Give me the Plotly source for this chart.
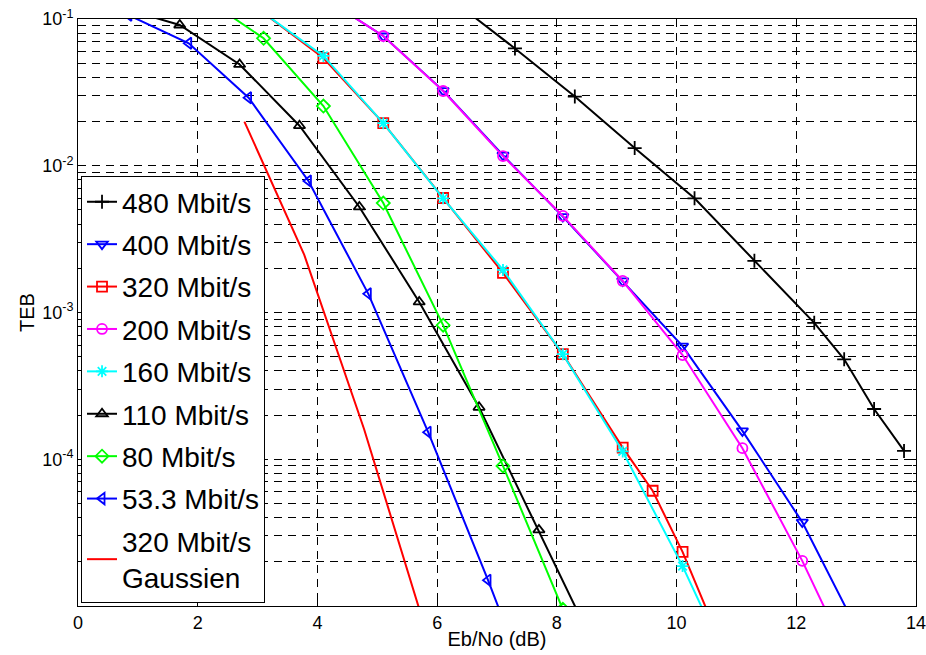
import plotly.graph_objects as go

# ---------------- data ----------------
x_480 = [6.3, 7.3, 8.3, 9.3, 10.3, 11.3, 12.3, 12.8, 13.3, 13.8]
y_480 = [0.13, 0.063, 0.0296, 0.0132, 0.0060, 0.00225, 0.00085, 4.8e-4, 2.2e-4, 1.14e-4]

x_400 = [4.1, 5.1, 6.1, 7.1, 8.1, 9.1, 10.1, 11.1, 12.1, 13.1]
y_400 = [0.14, 0.0766, 0.0325, 0.0118, 0.0045, 0.00164, 5.9e-4, 1.56e-4, 3.73e-5, 5.9e-6]

x_320 = [3.1, 4.1, 5.1, 6.1, 7.1, 8.1, 9.1, 9.6, 10.1, 10.6]
y_320 = [0.11, 0.0542, 0.0195, 6.03e-3, 1.86e-3, 5.2e-4, 1.2e-4, 6.1e-5, 2.34e-5, 7.6e-6]

x_200 = [4.1, 5.1, 6.1, 7.1, 8.1, 9.1, 10.1, 11.1, 12.1, 13.1]
y_200 = [0.14, 0.0766, 0.0323, 0.01164, 0.00455, 0.00164, 5.13e-4, 1.19e-4, 2.03e-5, 2.8e-6]

x_160 = [3.1, 4.1, 5.1, 6.1, 7.1, 8.1, 9.1, 10.1, 11.1]
y_160 = [0.11, 0.056, 0.0195, 6.0e-3, 1.95e-3, 5.2e-4, 1.13e-4, 1.87e-5, 2.5e-6]

x_110 = [0.7, 1.7, 2.7, 3.7, 4.7, 5.7, 6.7, 7.7, 8.7]
y_110 = [0.12, 0.091, 0.049, 0.01875, 5.24e-3, 1.18e-3, 2.26e-4, 3.3e-5, 4.6e-6]

x_80 = [2.1, 3.1, 4.1, 5.1, 6.1, 7.1, 8.1]
y_80 = [0.14, 0.0739, 0.0255, 5.57e-3, 8.2e-4, 9.0e-5, 9.5e-6]

x_53 = [0.85, 1.85, 2.85, 3.85, 4.85, 5.85, 6.85, 7.85]
y_53 = [0.106, 0.0683, 0.0291, 7.87e-3, 1.34e-3, 1.53e-4, 1.5e-5, 1.3e-6]

x_gauss = [2.78, 3.78, 4.78, 5.78]
y_gauss = [0.02, 2.47e-3, 1.6e-4, 7.5e-6]

x_ticks = [0, 2, 4, 6, 8, 10, 12, 14]
y_decades = [1e-1, 1e-2, 1e-3, 1e-4]
y_decade_labels = ["10<sup>-1</sup>", "10<sup>-2</sup>", "10<sup>-3</sup>", "10<sup>-4</sup>"]
y_minor_mults = [2, 3, 4, 5, 6, 7, 8, 9]

# ---------------- figure ----------------
series = [
    ("480 Mbit/s", x_480, y_480, "#000000", "cross-thin-open"),
    ("400 Mbit/s", x_400, y_400, "#0000ff", "triangle-down-open"),
    ("320 Mbit/s", x_320, y_320, "#ff0000", "square-open"),
    ("200 Mbit/s", x_200, y_200, "#ff00ff", "circle-open"),
    ("160 Mbit/s", x_160, y_160, "#00ffff", "asterisk-open"),
    ("110 Mbit/s", x_110, y_110, "#000000", "triangle-up-open"),
    ("80 Mbit/s", x_80, y_80, "#00ff00", "diamond-open"),
    ("53.3 Mbit/s", x_53, y_53, "#0000ff", "triangle-left-open"),
]

fig = go.Figure()
for i, (name, xs, ys, col, sym) in enumerate(series):
    fig.add_trace(go.Scatter(
        x=xs, y=ys, name=name, mode="lines+markers",
        legendgroup=f"g{i}",
        line=dict(color=col, width=2),
        marker=dict(symbol=sym, size=10, color=col, line=dict(color=col, width=1.8)),
    ))

fig.add_trace(go.Scatter(
    x=x_gauss, y=y_gauss, name="320 Mbit/s<br>Gaussien", mode="lines",
    legendgroup="gauss",
    line=dict(color="#ff0000", width=2),
))

minor_vals = [m * 10.0 ** d for d in range(-5, -1) for m in y_minor_mults]

font_family = "Liberation Sans, Arial, sans-serif"
grid_dash = "8px,6px"

fig.update_layout(
    width=926, height=655,
    margin=dict(l=78, r=10, t=19, b=49),
    paper_bgcolor="white", plot_bgcolor="white",
    font=dict(family=font_family, color="black", size=18),
    showlegend=True,
    legend=dict(
        x=0.0036, y=0.005, xanchor="left", yanchor="bottom",
        bgcolor="white", bordercolor="black", borderwidth=1,
        font=dict(size=28, family=font_family, color="black"),
        tracegroupgap=3, traceorder="grouped",
        itemwidth=30,
    ),
    xaxis=dict(
        range=[0, 14], tickmode="array", tickvals=x_ticks, ticktext=[str(t) for t in x_ticks],
        showgrid=True, gridcolor="black", gridwidth=1, griddash=grid_dash,
        showline=True, linecolor="black", linewidth=1, mirror="ticks",
        ticks="inside", ticklen=5, tickcolor="black",
        zeroline=False, automargin=False, ticklabeloverflow="allow",
        tickfont=dict(size=18),
        title=dict(text="Eb/No (dB)", font=dict(size=20), standoff=0),
    ),
    yaxis=dict(
        type="log", range=[-5, -1],
        tickmode="array", tickvals=y_decades, ticktext=y_decade_labels,
        showgrid=True, gridcolor="black", gridwidth=1, griddash=grid_dash,
        showline=True, linecolor="black", linewidth=1, mirror="ticks",
        ticks="inside", ticklen=5, tickcolor="black",
        zeroline=False, automargin=False, ticklabeloverflow="allow",
        tickfont=dict(size=18),
        minor=dict(
            tickmode="array", tickvals=minor_vals,
            showgrid=True, gridcolor="black", gridwidth=1, griddash=grid_dash,
            ticks="inside", ticklen=3, tickcolor="black",
        ),
        title=dict(text="TEB", font=dict(size=20), standoff=2),
    ),
)

fig.write_html(
    "out.html",
    config={"displayModeBar": False},
    post_script="document.body.style.margin='0';document.body.style.overflow='hidden';",
)
